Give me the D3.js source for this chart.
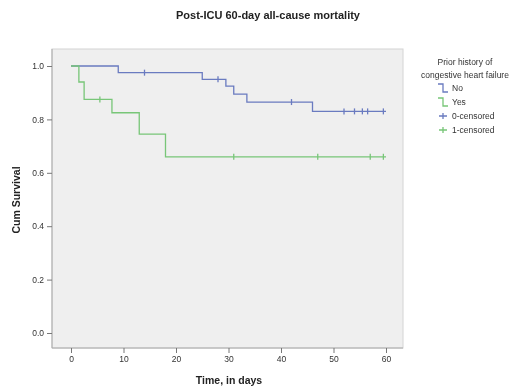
<!DOCTYPE html>
<html>
<head>
<meta charset="utf-8">
<script src="https://cdn.jsdelivr.net/npm/d3@7"></script>
<style>
  body { margin: 0; background: #fff; }
  svg { display: block; filter: blur(0.7px); }
  text { font-family: Arial, "Liberation Sans", sans-serif; }
</style>
</head>
<body>
<figure id="km" style="margin:0"></figure>
<script>
// Kaplan-Meier steps
const noTimes = [0, 9, 25, 29.5, 31, 33.5, 46, 60];
const noSurv = [1, 0.975, 0.95, 0.925, 0.895, 0.865, 0.83, 0.83];
const noCensored = [14, 28, 42, 52, 54, 55.5, 56.5, 59.5];

const yesTimes = [0, 1.5, 2.5, 7.8, 13, 18, 60];
const yesSurv = [1, 0.94, 0.875, 0.825, 0.745, 0.66, 0.66];
const yesCensored = [5.5, 31, 47, 57, 59.5];

const xTicks = [0, 10, 20, 30, 40, 50, 60];
const yTicks = [0, 0.2, 0.4, 0.6, 0.8, 1.0];
const legendLabels = ["No", "Yes", "0-censored", "1-censored"];

const width = 523, height = 386;
const plot = { left: 52, right: 403, top: 49, bottom: 348 };
const blue = "#6a7bc0", green = "#78c678";

const svg = d3.select("figure#km")
  .append("svg")
  .attr("width", width)
  .attr("height", height);

const x = d3.scaleLinear().domain([0, 60]).range([71, 386]);
const y = d3.scaleLinear().domain([0, 1]).range([333, 66]);

// plot background
svg.append("rect")
  .attr("x", plot.left)
  .attr("y", plot.top)
  .attr("width", plot.right - plot.left)
  .attr("height", plot.bottom - plot.top)
  .attr("fill", "#efefef")
  .attr("stroke", "#d4d4d4");

// axes
const yAxis = d3.axisLeft(y).tickValues(yTicks).tickFormat(d3.format(".1f")).tickSize(5).tickPadding(3);
const xAxis = d3.axisBottom(x).tickValues(xTicks).tickFormat(d3.format("d")).tickSize(5).tickPadding(3);

const gy = svg.append("g").attr("transform", "translate(" + plot.left + ",0)").call(yAxis);
gy.select(".domain").attr("d", "M0," + plot.top + "V" + plot.bottom).attr("stroke", "#aaa");
const gx = svg.append("g").attr("transform", "translate(0," + plot.bottom + ")").call(xAxis);
gx.select(".domain").attr("d", "M" + plot.left + ",0H" + plot.right).attr("stroke", "#aaa");
svg.selectAll(".tick line").attr("stroke", "#777");
svg.selectAll(".tick text").attr("font-size", 8.5).attr("fill", "#333");

// survival curves
const line = d3.line()
  .x(d => x(d[0]))
  .y(d => y(d[1]))
  .curve(d3.curveStepAfter);

function survAt(times, surv, t) {
  const i = d3.bisectRight(times, t) - 1;
  return surv[Math.max(0, i)];
}

function drawGroup(times, surv, censored, color) {
  svg.append("path")
    .datum(d3.zip(times, surv))
    .attr("d", line)
    .attr("fill", "none")
    .attr("stroke", color)
    .attr("stroke-width", 1.3);

  svg.selectAll(null)
    .data(censored)
    .enter()
    .append("line")
    .attr("x1", d => x(d))
    .attr("x2", d => x(d))
    .attr("y1", d => y(survAt(times, surv, d)) - 3)
    .attr("y2", d => y(survAt(times, surv, d)) + 3)
    .attr("stroke", color)
    .attr("stroke-width", 1.3);
}

drawGroup(noTimes, noSurv, noCensored, blue);
drawGroup(yesTimes, yesSurv, yesCensored, green);

// titles
svg.append("text")
  .attr("x", 268).attr("y", 19)
  .attr("text-anchor", "middle")
  .attr("font-size", 11).attr("font-weight", "bold").attr("fill", "#222")
  .text("Post-ICU 60-day all-cause mortality");

svg.append("text")
  .attr("x", 229).attr("y", 384)
  .attr("text-anchor", "middle")
  .attr("font-size", 10.5).attr("font-weight", "bold").attr("fill", "#222")
  .text("Time, in days");

svg.append("text")
  .attr("transform", "translate(20,200) rotate(-90)")
  .attr("text-anchor", "middle")
  .attr("font-size", 10.5).attr("font-weight", "bold").attr("fill", "#222")
  .text("Cum Survival");

// legend
const legend = svg.append("g");
legend.append("text")
  .attr("x", 465).attr("y", 65)
  .attr("text-anchor", "middle")
  .attr("font-size", 8.5).attr("fill", "#333")
  .text("Prior history of");
legend.append("text")
  .attr("x", 465).attr("y", 78)
  .attr("text-anchor", "middle")
  .attr("font-size", 8.5).attr("fill", "#333")
  .text("congestive heart failure");

const legendY = [88, 102, 116, 130];
const legendColors = [blue, green, blue, green];

legendLabels.forEach((label, i) => {
  const cy = legendY[i];
  if (i < 2) {
    legend.append("path")
      .attr("d", "M438," + (cy - 4) + "H443V" + (cy + 4) + "H448")
      .attr("fill", "none")
      .attr("stroke", legendColors[i])
      .attr("stroke-width", 1.3);
  } else {
    legend.append("path")
      .attr("d", "M439," + cy + "H447M443," + (cy - 3) + "V" + (cy + 3))
      .attr("stroke", legendColors[i])
      .attr("stroke-width", 1.3);
  }
  legend.append("text")
    .attr("x", 452).attr("y", cy + 3)
    .attr("font-size", 8.5).attr("fill", "#333")
    .text(label);
});
</script>
</body>
</html>
